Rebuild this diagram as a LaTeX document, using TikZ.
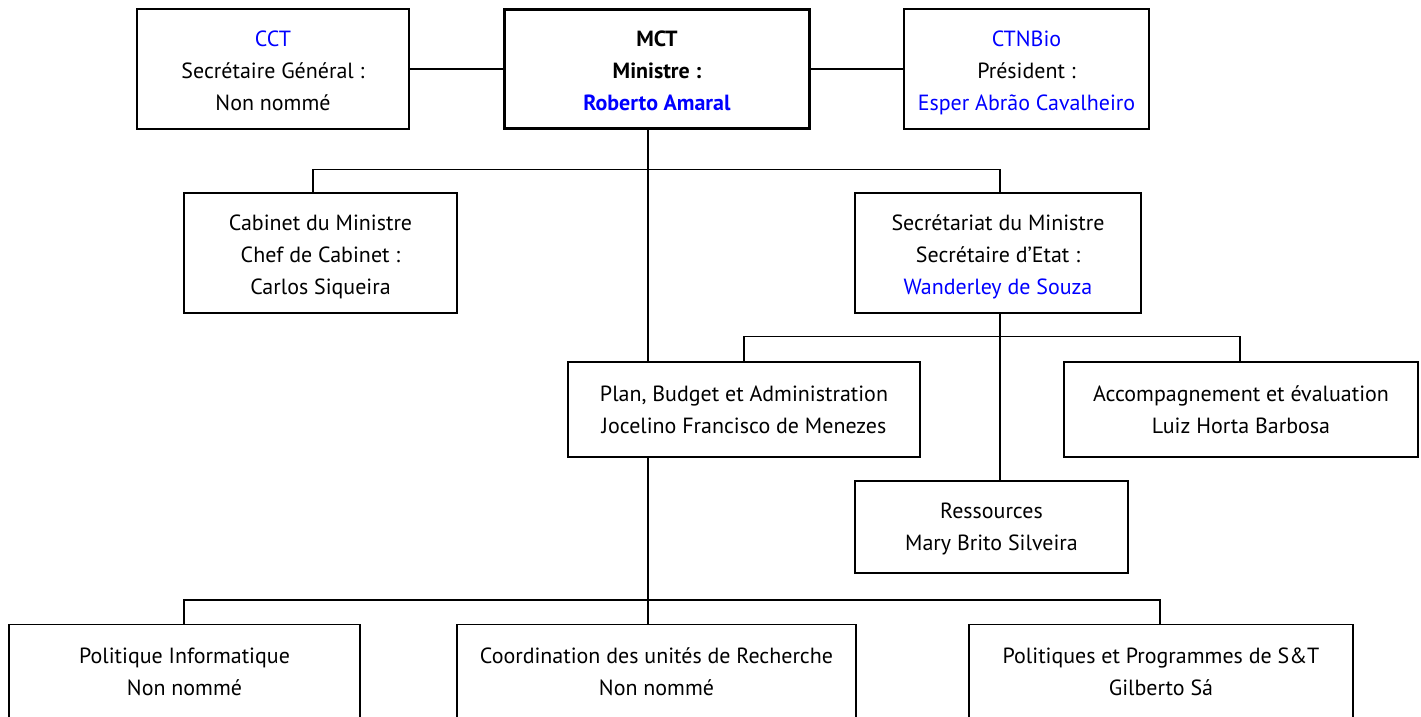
\documentclass[tikz,border=0pt]{standalone}
\usepackage{fontspec}
\setmainfont{PT Sans}
\usetikzlibrary{positioning}
\definecolor{nameblue}{RGB}{0,0,255}

\begin{document}
\begin{tikzpicture}[x=0.02cm, y=-0.02cm,
    box/.style={draw, rectangle, line width=0.85pt, align=center,
                inner sep=0pt, minimum height=2.4cm,
                text height=47.3pt, text depth=0pt,
                font=\fontsize{12.5}{18.2}\selectfont},
    lowbox/.style={box, minimum height=1.9cm, text height=26.8pt},
    link/.style={line width=0.85pt}]

    \useasboundingbox (0,0) rectangle (1421,717);
    \clip (0,0) rectangle (1421,717);

    % top row
    \node[  box, 
            minimum width=5.44cm] (cct) at (273, 69) 
            {\textcolor{nameblue}{CCT}\\ Secrétaire Général :\\ Non nommé};
    \node[  box, 
            line width=1.7pt, 
            minimum width=6.12cm] (mct) at (657, 69) 
            {\bfseries MCT\\ \bfseries Ministre :\\ \bfseries\textcolor{nameblue}{Roberto Amaral}};
    \node[  box, 
            minimum width=4.9cm] (ctn) at (1026.5, 69) 
            {\textcolor{nameblue}{CTNBio}\\ Président :\\ \textcolor{nameblue}{Esper Abrão Cavalheiro}};

    % second row
    \node[  box, 
            minimum width=5.46cm] (cab) at (320.5, 253) 
            {Cabinet du Ministre\\ Chef de Cabinet :\\ Carlos Siqueira};
    \node[  box, 
            minimum width=5.72cm] (sec) at (998, 253) 
            {Secrétariat du Ministre\\ Secrétaire d'Etat :\\ \textcolor{nameblue}{Wanderley de Souza}};

    % third row
    \node[  lowbox, 
            minimum width=7.04cm] (plan) at (744, 409.5) 
            {Plan, Budget et Administration\\ Jocelino Francisco de Menezes};
    \node[  lowbox, 
            minimum width=7.08cm] (acc) at (1241, 409.5) 
            {Accompagnement et évaluation\\ Luiz Horta Barbosa};
    \node[  lowbox, 
            minimum height=1.84cm, 
            minimum width=5.46cm] (res) at (991.5, 527) 
            {Ressources\\ Mary Brito Silveira};

    % bottom row
    \node[  lowbox, 
            minimum width=7.02cm] (pol) at (184.5, 672) 
            {Politique Informatique\\ Non nommé};
    \node[  lowbox, 
            minimum width=7.98cm] (coo) at (656.5, 672) 
            {Coordination des unités de Recherche\\ Non nommé};
    \node[  lowbox, 
            minimum width=7.68cm] (prg) at (1161, 672) 
            {Politiques et Programmes de S\&T\\ Gilberto Sá};

    % connectors
    \coordinate (trunk) at (648, 0);
    \coordinate (secdrop) at (1000, 0);

    \draw[link] (cct.east) -- (mct.west);
    \draw[link] (mct.east) -- (ctn.west);

    \draw[link] (mct.south -| trunk) -- (plan.north -| trunk);
    \draw[link] (plan.south -| trunk) -- (coo.north -| trunk);
    \draw[link] (cab.north -| 313, 0) -- ++(0, -23) -| (sec.north -| secdrop);

    \draw[link] (sec.south -| secdrop) -- (res.north -| secdrop);
    \draw[link] (plan.north) -- ++(0, -25) -| (acc.north -| 1240, 0);

    \draw[link] (pol.north -| 184, 0) -- ++(0, -24) -| (prg.north -| 1160, 0);

\end{tikzpicture}
\end{document}
